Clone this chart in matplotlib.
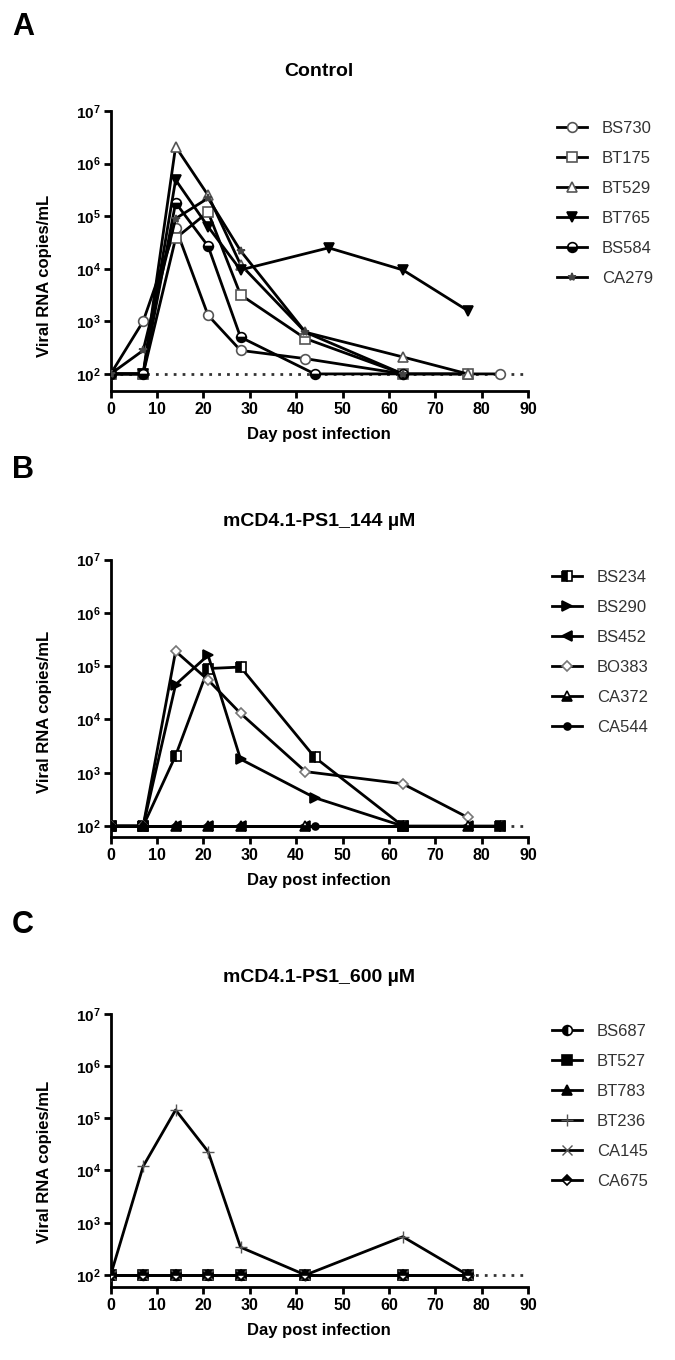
import matplotlib
matplotlib.use("Agg")
import matplotlib.pyplot as plt
import numpy as np

plt.rcParams['font.family'] = ['Liberation Sans', 'DejaVu Sans']
plt.rcParams['mathtext.fontset'] = 'custom'
plt.rcParams['mathtext.rm'] = 'Liberation Sans'
plt.rcParams['mathtext.bf'] = 'Liberation Sans:bold'

# ---- data (viral RNA copies/mL by day post infection) ----
# Panel A: Control
a_names = ["BS730", "BT175", "BT529", "BT765", "BS584", "CA279"]
a_days = [
    [0, 7, 14, 21, 28, 42, 63, 84],
    [0, 7, 14, 21, 28, 42, 63, 77],
    [0, 7, 14, 21, 28, 42, 63, 77],
    [0, 7, 14, 21, 28, 47, 63, 77],
    [0, 7, 14, 21, 28, 44, 63],
    [0, 7, 14, 21, 28, 42, 63],
]
a_vals = [
    [100, 1000, 6e4, 1300, 280, 195, 100, 100],
    [100, 100, 3.8e4, 1.2e5, 3200, 470, 100, 100],
    [100, 100, 2.1e6, 2.5e5, 1.2e4, 620, 210, 100],
    [100, 100, 4.9e5, 6.3e4, 9500, 2.5e4, 9500, 1600],
    [100, 100, 1.8e5, 2.7e4, 500, 100, 100],
    [100, 280, 9e4, 2.2e5, 2.2e4, 620, 100],
]

# Panel B: mCD4.1-PS1_144 uM
b_names = ["BS234", "BS290", "BS452", "BO383", "CA372", "CA544"]
b_days = [
    [0, 7, 14, 21, 28, 44, 63, 84],
    [0, 7, 14, 21, 28, 44, 63],
    [0, 7, 14, 21, 28, 42, 63, 77, 84],
    [0, 7, 14, 21, 28, 42, 63, 77],
    [0, 7, 14, 21, 28, 42, 63, 77],
    [0, 7, 14, 21, 28, 44, 63, 84],
]
b_vals = [
    [100, 100, 2100, 9e4, 9.6e4, 1950, 100, 100],
    [100, 100, 4.5e4, 1.6e5, 1800, 340, 100],
    [100, 100, 100, 100, 100, 100, 100, 100, 100],
    [100, 100, 1.9e5, 5.5e4, 1.3e4, 1050, 620, 145],
    [100, 100, 100, 100, 100, 100, 100, 100],
    [100, 100, 100, 100, 100, 100, 100, 100],
]

# Panel C: mCD4.1-PS1_600 uM
c_names = ["BS687", "BT527", "BT783", "BT236", "CA145", "CA675"]
c_days = [
    [0, 7, 14, 21, 28, 42, 63, 77],
    [0, 7, 14, 21, 28, 42, 63, 77],
    [0, 7, 14, 21, 28, 42, 63, 77],
    [0, 7, 14, 21, 28, 42, 63, 77],
    [0, 7, 14, 21, 28, 42, 63, 77],
    [0, 7, 14, 21, 28, 42, 63, 77],
]
c_vals = [
    [100] * 8,
    [100] * 8,
    [100] * 8,
    [100, 1.2e4, 1.44e5, 2.3e4, 340, 100, 540, 100],
    [100] * 8,
    [100] * 8,
]

# marker styles per series
a_style = [
    dict(marker="o", mfc="white", mec="#555555"),
    dict(marker="s", mfc="white", mec="#555555"),
    dict(marker="^", mfc="white", mec="#555555"),
    dict(marker="v", mfc="black", mec="black"),
    dict(marker="o", fillstyle="bottom", mfc="black", mfcalt="white", mec="black"),
    dict(marker="*", mfc="#444444", mec="#444444", ms=6),
]
b_style = [
    dict(marker="s", fillstyle="left", mfc="black", mfcalt="white", mec="black"),
    dict(marker=">", mfc="black", mec="black"),
    dict(marker="<", mfc="black", mec="black"),
    dict(marker="D", mfc="white", mec="#777777", ms=5),
    dict(marker="^", fillstyle="bottom", mfc="black", mfcalt="white", mec="black"),
    dict(marker="o", mfc="black", mec="black", ms=5),
]
c_style = [
    dict(marker="o", fillstyle="left", mfc="black", mfcalt="white", mec="black"),
    dict(marker="s", mfc="black", mec="black"),
    dict(marker="^", mfc="black", mec="black"),
    dict(marker="+", mfc="#555555", mec="#555555", ms=8, mew=1),
    dict(marker="x", mfc="#555555", mec="#555555", ms=7, mew=1),
    dict(marker="D", fillstyle="top", mfc="black", mfcalt="white", mec="black", ms=5),
]

fig = plt.figure(figsize=(6.75, 13.6), dpi=100)
W, H = 675.0, 1360.0


def panel(rect, ylow, title, title_y, letter, letter_y, names, days, vals, styles,
          leg_x, leg_y, ylab_frac):
    ax = fig.add_axes(rect)
    ax.axhline(100, color="#333333", lw=2, ls=(0, (1, 2.2)), zorder=1)
    for n, d, v, st in zip(names, days, vals, styles):
        kw = dict(ms=7, mew=1.2)
        kw.update(st)
        ax.plot(d, v, color="black", lw=2, label=n, zorder=3, **kw)
    ax.set_yscale("log")
    ax.set_ylim(ylow, 1e7)
    ax.set_xlim(0, 90)
    ax.set_xticks(np.arange(0, 91, 10))
    ax.set_yticks([1e2, 1e3, 1e4, 1e5, 1e6, 1e7])
    ax.set_yticklabels([r"$\mathbf{10^{%d}}$" % k for k in range(2, 8)])
    ax.minorticks_off()
    ax.tick_params(axis="y", width=2, length=5, labelsize=11, pad=2)
    ax.tick_params(axis="x", width=2, length=5, labelsize=11.5, pad=3)
    for lab in ax.get_xticklabels():
        lab.set_fontweight("bold")
    for s in ["top", "right"]:
        ax.spines[s].set_visible(False)
    for s in ["left", "bottom"]:
        ax.spines[s].set_linewidth(2)
    ax.set_xlabel("Day post infection", fontsize=12, fontweight="bold", labelpad=7)
    ax.set_ylabel("Viral RNA copies/mL", fontsize=12, fontweight="bold")
    ax.yaxis.set_label_coords(-0.14, ylab_frac)
    fig.text(319 / W, 1 - title_y / H, title, ha="center", va="center",
             fontsize=14, fontweight="bold")
    fig.text(12 / W, 1 - letter_y / H, letter, ha="left", va="center",
             fontsize=22, fontweight="bold")
    leg = ax.legend(loc="upper left", bbox_to_anchor=(leg_x / W, 1 - leg_y / H),
                    bbox_transform=fig.transFigure, frameon=False, fontsize=12,
                    handlelength=1.8, handletextpad=0.9, labelspacing=0.9,
                    borderpad=0, borderaxespad=0)
    for t in leg.get_texts():
        t.set_color("#333333")
    return ax


panel([110.7 / W, 1 - 391 / H, 417.3 / W, 280 / H], 10 ** 1.675,
      "Control", 72, "A", 27, a_names, a_days, a_vals, a_style, 557, 121, 0.41)
panel([110.7 / W, 1 - 836.7 / H, 417.3 / W, 277.2 / H], 10 ** 1.8,
      "mCD4.1-PS1_144 µM", 521, "B", 470, b_names, b_days, b_vals, b_style, 552, 570, 0.45)
panel([110.7 / W, 1 - 1286.7 / H, 417.3 / W, 273 / H], 10 ** 1.776,
      "mCD4.1-PS1_600 µM", 977, "C", 925, c_names, c_days, c_vals, c_style, 552, 1024, 0.457)

fig.savefig("out.png", dpi=100)
